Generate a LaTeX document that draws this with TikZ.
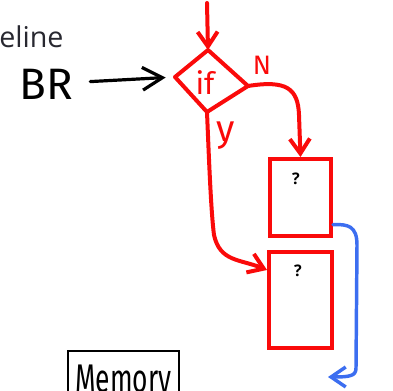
\documentclass[tikz,border=0pt]{standalone}
\usepackage{fontspec}
\setmainfont{Open Sans}
\newfontfamily\handwriting{Fira Sans}
\usepackage{xcolor}
\definecolor{penred}{RGB}{250, 10, 10}
\definecolor{penblue}{RGB}{60, 110, 240}
\definecolor{slidegray}{RGB}{40, 40, 48}
\usetikzlibrary{arrows.meta, positioning, calc}
\newcommand{\bighand}{\handwriting\fontsize{33}{36}\selectfont}
\newcommand{\midhand}{\handwriting\fontsize{23}{26}\selectfont}

\begin{document}
\begin{tikzpicture}[x=0.75pt, y=-0.75pt,
    redpen/.style={line width=3pt, color=penred, line cap=round, line join=round},
    redtip/.style={-{Straight Barb[length=11pt, width=15pt]}},
    redbox/.style={draw=penred, line width=3pt, inner sep=0pt},
    qmark/.style={font=\bfseries\large, inner sep=0pt}]
    \useasboundingbox (0,0) rectangle (393,391);
    \clip (0,0) rectangle (393,391);

    % Slide title fragment
    \node[slidegray, font=\fontsize{21.5}{24}\selectfont, anchor=base west, inner sep=0pt] (title) at (-1,48) {eline};

    % Branch instruction
    \node[font=\bighand, inner sep=1pt] (br) at (46,84) {BR};

    % The "if" decision (hand drawn diamond)
    \coordinate (iffN) at (208,50);
    \coordinate (iffE) at (248,86);
    \coordinate (iffS) at (207,112);
    \coordinate (iffW) at (175,77);
    \draw[redpen] (iffN) -- (iffE) -- (iffS) -- (iffW) -- cycle;
    \node[penred, font=\midhand, inner sep=0pt] (iff) at (205,83) {if};
    \node[penred, font=\handwriting\fontsize{20}{22}\selectfont, inner sep=0pt] (nlab) at (262,65) {N};
    \node[penred, font=\handwriting\fontsize{28}{30}\selectfont, inner sep=0pt] (ylab) at (226,136) {y};

    % Target boxes
    \node[redbox, minimum width=45.75pt, minimum height=57.75pt] (box1) at (300.5,197.5) {};
    \node[redbox, minimum width=47.25pt, minimum height=72pt, below=9pt of box1] (box2) {};
    \node[qmark] (q1) at (296,179) {?};
    \node[qmark] (q2) at (298,271) {?};

    % Memory (cut off at the bottom)
    \node[draw, line width=1.6pt, anchor=north, minimum width=83pt, inner xsep=0pt, inner ysep=9pt,
        text height=22pt, text depth=40pt, font=\handwriting\fontsize{30}{30}\selectfont] (memory) at (123.5,350)
        {\scalebox{0.66}[1]{Memory}};
    \coordinate (entry) at (207,3);
    \coordinate (memtip) at (328,377);

    % Arrows
    \draw[redpen, redtip] (entry) -- (iffN);
    \draw[line width=2.4pt, line cap=round, -{Straight Barb[length=15pt, width=17pt]}, shorten <=12pt, shorten >=7pt]
        (br) -- (iffW);
    \draw[redpen, redtip] (iffE) .. controls (286,80) and (298,88) .. (299,115) -- (box1.north);
    \draw[redpen, redtip] (iffS) .. controls (209,160) and (211,212) .. (214,235)
        .. controls (220,262) and (240,259) .. ([yshift=-15pt]box2.north west);
    \draw[line width=2.6pt, color=penblue, line cap=round, line join=round, -{Straight Barb[length=11pt, width=15pt]}]
        ([yshift=10pt]box1.south east) .. controls (348,224) and (357,226) .. (357,245)
        -- (356,368) .. controls (356,376) and (350,377) .. (memtip);

\end{tikzpicture}
\end{document}
